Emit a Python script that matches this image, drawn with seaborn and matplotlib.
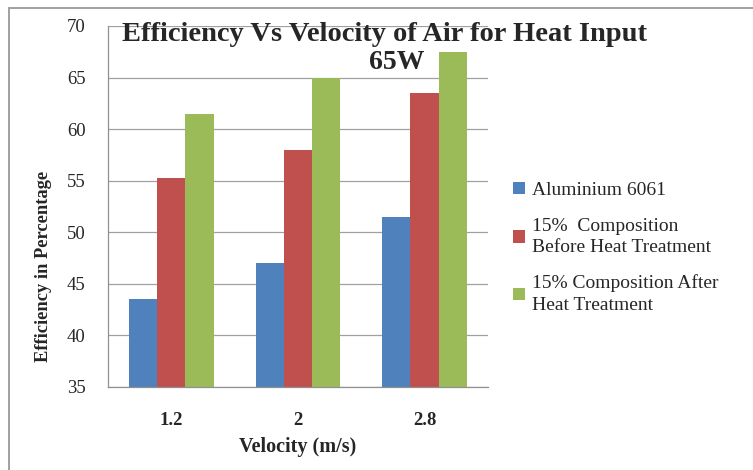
import pandas as pd
import matplotlib
matplotlib.use('Agg')
import matplotlib.pyplot as plt
import seaborn as sns
from matplotlib.lines import Line2D

velocity = ['1.2', '2', '2.8']
aluminium = [43.5, 47.0, 51.5]
before_ht = [55.3, 58.0, 63.5]
after_ht = [61.5, 65.0, 67.5]
series_names = ['Aluminium 6061',
                '15%  Composition\nBefore Heat Treatment',
                '15% Composition After\nHeat Treatment']
colors = ['#4F81BD', '#C0504D', '#9BBB59']

rows = []
for name, vals in zip(series_names, [aluminium, before_ht, after_ht]):
    for v, e in zip(velocity, vals):
        rows.append({'Velocity': v, 'Efficiency': e, 'Series': name})
df = pd.DataFrame(rows)

sns.set_style('white')
plt.rcParams['font.family'] = ['Liberation Serif', 'DejaVu Serif']

fig = plt.figure(figsize=(7.53, 4.70), dpi=100)
ax = fig.add_axes([0.1434, 0.1766, 0.5046, 0.7681])

sns.barplot(data=df, x='Velocity', y='Efficiency', hue='Series',
            palette=colors, width=0.67, saturation=1, linewidth=0,
            ax=ax, zorder=2)

ax.set_ylim(35, 70)
ax.set_xlim(-0.5, 2.5)
ax.set_yticks(range(35, 71, 5))
ax.grid(axis='y', color='#a0a0a0', linewidth=0.9, zorder=0)
ax.set_axisbelow(True)
for s in ['top', 'right']:
    ax.spines[s].set_visible(False)
for s in ['left', 'bottom']:
    ax.spines[s].set_color('#909090')
    ax.spines[s].set_linewidth(0.9)

ax.set_xticks([-0.5, 0.5, 1.5, 2.5], minor=True)
ax.tick_params(axis='x', which='minor', length=5, color='#909090', width=0.9)
ax.tick_params(axis='x', which='major', length=0, pad=18, labelsize=13.5)
ax.tick_params(axis='y', length=6, color='#909090', width=0.9, labelsize=13.5, pad=10)
for lab in ax.get_xticklabels():
    lab.set_fontweight('bold')

ax.set_xlabel('Velocity (m/s)', fontsize=14.5, fontweight='bold', labelpad=6)
ax.set_ylabel('Efficiency in Percentage', fontsize=13.3, fontweight='bold')
ax.yaxis.set_label_coords(-0.147, 0.335)

fig.text(0.511, 0.926, 'Efficiency Vs Velocity of Air for Heat Input',
         ha='center', va='center', fontsize=20.5, fontweight='bold')
fig.text(0.527, 0.866, '65W', ha='center', va='center',
         fontsize=20, fontweight='bold')

handles, labels = ax.get_legend_handles_labels()
leg = ax.legend(handles, labels, loc='center left', bbox_to_anchor=(1.02, 0.385),
                frameon=False, fontsize=14, handlelength=0.6, handleheight=0.6,
                handletextpad=0.4, labelspacing=0.95)
for t in leg.get_texts():
    t.set_linespacing(1.35)

# grey frame lines along the top and left of the chart area
fig.add_artist(Line2D([0.012, 1.0], [0.983, 0.983], transform=fig.transFigure,
                      color='#a0a0a0', linewidth=1.4))
fig.add_artist(Line2D([0.012, 0.012], [0.0, 0.983], transform=fig.transFigure,
                      color='#a0a0a0', linewidth=1.4))

fig.savefig('out.png', dpi=100)
